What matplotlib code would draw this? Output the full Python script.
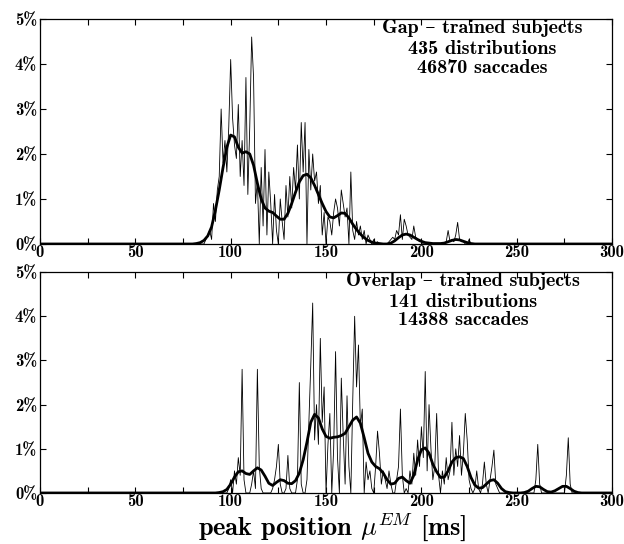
import numpy as np
import matplotlib
matplotlib.use("Agg")
import matplotlib.pyplot as plt

plt.rcParams['font.family'] = ['cmb10', 'DejaVu Serif']
plt.rcParams['mathtext.fontset'] = 'cm'
plt.rcParams['axes.unicode_minus'] = False

# raw histograms, 1 ms bins, values in %
gap_raw_start = 85
gap_raw = [0, 0, 0.1, 0.2, 0.3, 0.1, 0.9, 0.5, 1.2, 1.5,
           3.0, 1.8, 2.3, 1.6, 2.6, 4.1, 2.8, 2.2, 1.9, 3.1,
           1.5, 2.3, 1.3, 3.7, 1.1, 2.6, 4.6, 3.7, 0.9, 1.4,
           0.0, 1.7, 0.4, 2.1, 0.2, 1.6, 0.9, 0.0, 1.1, 0.3,
           0.0, 1.0, 0.5, 0.1, 1.3, 0.6, 1.5, 0.8, 1.7, 1.2,
           2.2, 1.0, 2.7, 1.6, 2.7, 0.0, 2.1, 1.2, 2.0, 1.4,
           1.6, 0.9, 1.3, 0.2, 0.7, 0.0, 0.6, 0.5, 0.2, 0.7,
           1.0, 0.8, 0.4, 1.2, 0.9, 0.6, 0.8, 0.0, 1.6, 0.3,
           0.1, 0.5, 0.2, 0.4, 0.1, 0.3, 0.0, 0.2, 0.1, 0.0,
           0.1, 0.0, 0.05, 0.0, 0.0, 0.0, 0.0, 0.0, 0.05, 0.1,
           0.15, 0.1, 0.3, 0.2, 0.65, 0.1, 0.55, 0.4, 0.2, 0.15,
           0.1, 0.4, 0.15, 0.1, 0.05, 0.05, 0.0, 0.0, 0.0, 0.0,
           0.0, 0.0, 0.0, 0.0, 0.0, 0.0, 0.0, 0.0, 0.05, 0.3,
           0.05, 0.1, 0.05, 0.2, 0.48, 0.1, 0.05, 0.05, 0.0, 0.0,
           0.1, 0.0]

overlap_raw_start = 95
overlap_raw = [0, 0, 0, 0, 0.1, 0.3, 0, 0.5, 0.2, 0.8,
               0.4, 2.8, 0.3, 0, 0, 0, 0.2, 0.5, 0.1, 2.8,
               0.6, 0.1, 0, 0, 0, 0, 0, 0.1, 0.3, 0.6,
               1.1, 0.2, 0, 0, 0.1, 0.85, 0.1, 0, 0, 0,
               0.3, 2.5, 0.2, 0, 0, 0.3, 1.6, 2.9, 4.3, 1.2,
               2.0, 1.1, 3.5, 1.6, 2.4, 0, 1.1, 1.8, 0, 1.0,
               3.2, 0.8, 0, 2.6, 1.3, 0.2, 2.2, 0.6, 0, 2.1,
               4.0, 2.4, 3.35, 1.5, 1.9, 0, 0.7, 0.3, 0.5, 0.1,
               0, 0.6, 1.4, 0.9, 0.2, 0.5, 0.3, 0.1, 0.5, 0.2,
               0, 0, 0.3, 0.6, 1.9, 0.4, 0, 0.1, 0, 0.5,
               0.2, 0.9, 0.4, 1.2, 0.6, 1.5, 0.8, 2.75, 0.5, 2.0,
               1.0, 0.3, 0.6, 1.8, 0.4, 0, 0.5, 0.2, 0.8, 0.3,
               0.5, 1.6, 0.4, 1.0, 0.6, 1.3, 0.4, 0.9, 1.8, 1.2,
               0.3, 0.1, 0, 0.1, 0.5, 0.1, 0, 0.2, 0.7, 0.2,
               0, 0.3, 0.6, 0.97, 0.2, 0.1, 0, 0, 0, 0,
               0, 0, 0, 0, 0, 0, 0, 0, 0, 0,
               0, 0, 0, 0, 0, 0.3, 1.1, 0.2, 0, 0,
               0, 0, 0, 0, 0, 0, 0, 0, 0, 0,
               0, 0.4, 1.25, 0.2, 0, 0]

# smoothed curves, 2 ms steps, values in %
gap_smooth_start = 80
gap_smooth = [0, 0.01, 0.03, 0.08, 0.18, 0.38, 0.75, 1.2, 1.7, 2.15,
              2.42, 2.38, 2.15, 2.02, 2.05, 2.0, 1.75, 1.35, 1.0, 0.8,
              0.73, 0.7, 0.62, 0.55, 0.55, 0.68, 0.9, 1.15, 1.38, 1.52,
              1.55, 1.47, 1.3, 1.1, 0.9, 0.72, 0.6, 0.58, 0.63, 0.69,
              0.68, 0.58, 0.44, 0.32, 0.22, 0.14, 0.08, 0.04, 0.02, 0.01,
              0.0, 0.0, 0.02, 0.07, 0.14, 0.2, 0.22, 0.2, 0.15, 0.1,
              0.06, 0.03, 0.02, 0.01, 0.01, 0.01, 0.02, 0.05, 0.08, 0.1,
              0.09, 0.06, 0.03, 0.01, 0, 0]

overlap_smooth_start = 90
overlap_smooth = [0, 0, 0.01, 0.03, 0.08, 0.2, 0.36, 0.48, 0.5, 0.44,
                  0.42, 0.5, 0.57, 0.52, 0.38, 0.22, 0.17, 0.24, 0.3, 0.28,
                  0.22, 0.21, 0.28, 0.45, 0.75, 1.15, 1.6, 1.78, 1.7, 1.45,
                  1.28, 1.24, 1.26, 1.27, 1.3, 1.35, 1.5, 1.65, 1.72, 1.58,
                  1.25, 0.9, 0.7, 0.6, 0.55, 0.45, 0.3, 0.2, 0.22, 0.33,
                  0.36, 0.28, 0.22, 0.4, 0.75, 0.98, 1.02, 0.9, 0.65, 0.48,
                  0.35, 0.36, 0.5, 0.7, 0.8, 0.82, 0.78, 0.6, 0.35, 0.18,
                  0.11, 0.12, 0.2, 0.28, 0.3, 0.22, 0.1, 0.03, 0.01, 0,
                  0, 0, 0.01, 0.04, 0.1, 0.15, 0.14, 0.08, 0.03, 0.02,
                  0.05, 0.1, 0.15, 0.15, 0.1, 0.04, 0.01, 0, 0, 0, 0]

panel_titles = [["Gap \u2013 trained subjects", "435 distributions", "46870 saccades"],
                ["Overlap \u2013 trained subjects", "141 distributions", "14388 saccades"]]
y_ticklabels = ["0%", "1%", "2%", "3%", "4%", "5%"]
x_ticklabels = ["0", "50", "100", "150", "200", "250", "300"]


def padded(start, values, step):
    # extend a series with zeros so it runs over the whole 0..300 ms axis
    x = start + step * np.arange(len(values))
    x = np.concatenate([[0], x, [300]])
    y = np.concatenate([[0], values, [0]])
    return x, y


fig = plt.figure(figsize=(6.24, 5.44), dpi=100)
ax1 = fig.add_axes([0.064, 0.5515, 0.917, 0.4136])
ax2 = fig.add_axes([0.064, 0.0938, 0.917, 0.406])

series = [(gap_raw_start, gap_raw, gap_smooth_start, gap_smooth),
          (overlap_raw_start, overlap_raw, overlap_smooth_start, overlap_smooth)]
text_x = [232, 222]
text_y = [4.79, 4.33, 3.92]

for i, (ax, (rs, rv, ss, sv)) in enumerate(zip([ax1, ax2], series)):
    x, y = padded(rs, rv, 1)
    ax.plot(x, y, color='black', lw=0.6)
    x, y = padded(ss, sv, 2)
    ax.plot(x, y, color='black', lw=2.0)
    ax.set_xlim(0, 300)
    ax.set_ylim(0, 5)
    ax.set_xticks(np.arange(0, 301, 50))
    ax.set_xticklabels(x_ticklabels, fontsize=12)
    ax.set_xticks(np.arange(0, 301, 25), minor=True)
    ax.set_yticks(np.arange(0, 6, 1))
    ax.set_yticklabels(y_ticklabels, fontsize=12)
    ax.tick_params(which='both', direction='in', top=True, right=True,
                   length=4, width=0.8, pad=2)
    ax.tick_params(axis='x', pad=1)
    for s in ax.spines.values():
        s.set_linewidth(0.9)
    for line, ty in zip(panel_titles[i], text_y):
        ax.text(text_x[i], ty, line, ha='center', va='center', fontsize=14.5)

# x axis title of the lower panel, set below the tick labels
fig.text(0.532, 1 - 535 / 544, r"peak position $\mu^{EM}$ [ms]",
         ha='center', va='baseline', fontsize=19)

fig.savefig("out.png", dpi=100)
